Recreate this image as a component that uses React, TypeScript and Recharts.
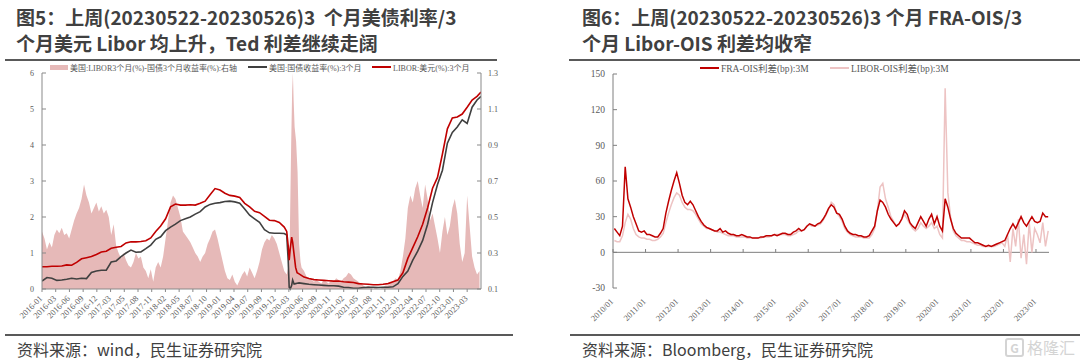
import React from 'react';
import { ComposedChart, Line, Area, XAxis, YAxis, ReferenceLine } from 'recharts';

const SERIF = "'Liberation Serif', 'Noto Sans CJK SC', serif";
const SANS = "'Noto Sans CJK SC', sans-serif";
const RED = '#C00000';
const DARK = '#404040';
const PINK = '#E6B9B8';
const AXIS = '#898989';
const TICK_TEXT = '#595959';

// ---------- figure 5 ----------
const leftTickLabels = [
  '2016-01', '2016-03', '2016-06', '2016-09', '2016-12', '2017-03', '2017-05', '2017-08',
  '2017-11', '2018-02', '2018-05', '2018-07', '2018-10', '2019-01', '2019-04', '2019-07',
  '2019-09', '2019-12', '2020-03', '2020-06', '2020-09', '2020-11', '2021-02', '2021-05',
  '2021-08', '2021-11', '2022-01', '2022-04', '2022-07', '2022-10', '2023-01', '2023-03',
];
// label spacing in months (labels are evenly spaced along the axis)
const leftTickStep = 86 / (leftTickLabels.length - 1);

// months since 2016-01
const lineMonths = [
  0, 1, 2, 3, 4, 5, 6, 7, 8, 9, 10, 11,
  12, 13, 14, 15, 16, 17, 18, 19, 20, 21, 22, 23,
  24, 25, 26, 27, 28, 29, 30, 31, 32, 33, 34, 35,
  36, 37, 38, 39, 40, 41, 42, 43, 44, 45, 46, 47,
  48, 49,
  49.5, 49.8, 50.0, 50.2, 50.5, 50.7, 51.0, 51.3, 51.6, 52,
  53, 54, 55, 56, 57, 58, 59, 60, 61, 62, 63, 64,
  65, 66, 67, 68, 69, 70, 71, 72, 73, 74, 75, 76,
  77, 78, 79, 80, 81, 82, 83, 84, 85, 86, 87, 88,
  88.8,
];
const libor3m = [
  0.62, 0.62, 0.63, 0.63, 0.64, 0.67, 0.66, 0.74, 0.84, 0.87, 0.90, 0.96,
  1.03, 1.05, 1.13, 1.16, 1.18, 1.28, 1.31, 1.31, 1.32, 1.34, 1.42, 1.60,
  1.75, 1.95, 2.28, 2.36, 2.33, 2.33, 2.34, 2.33, 2.38, 2.44, 2.62, 2.79,
  2.75, 2.66, 2.60, 2.58, 2.54, 2.38, 2.28, 2.16, 2.12, 2.02, 1.91, 1.90,
  1.85, 1.72,
  1.60, 1.20, 0.80, 1.10, 1.44, 1.30, 0.95, 0.60, 0.45, 0.42,
  0.33, 0.29, 0.26, 0.25, 0.24, 0.23, 0.22, 0.22, 0.20, 0.19, 0.18, 0.15,
  0.14, 0.13, 0.12, 0.12, 0.13, 0.15, 0.20, 0.25, 0.45, 0.85, 1.15, 1.45,
  1.80, 2.25, 2.80, 3.10, 3.75, 4.45, 4.75, 4.78, 4.86, 5.05, 5.25, 5.35,
  5.47,
];
const tsy3m = [
  0.22, 0.32, 0.30, 0.24, 0.25, 0.27, 0.30, 0.28, 0.30, 0.29, 0.46, 0.50,
  0.52, 0.52, 0.75, 0.78, 0.90, 1.00, 1.08, 1.02, 1.03, 1.12, 1.22, 1.38,
  1.45, 1.62, 1.72, 1.80, 1.90, 1.95, 2.00, 2.08, 2.15, 2.28, 2.35, 2.38,
  2.40, 2.43, 2.44, 2.42, 2.38, 2.22, 2.05, 1.95, 1.85, 1.65, 1.56, 1.55,
  1.55, 1.54,
  1.50, 0.80, 0.05, 0.00, 0.10, 0.25, 0.14, 0.15, 0.16, 0.17,
  0.15, 0.13, 0.12, 0.11, 0.10, 0.09, 0.09, 0.08, 0.05, 0.04, 0.02, 0.02,
  0.04, 0.05, 0.05, 0.04, 0.05, 0.05, 0.06, 0.15, 0.35, 0.50, 0.80, 1.05,
  1.35, 1.80, 2.40, 2.90, 3.30, 4.05, 4.35, 4.50, 4.70, 4.60, 5.05, 5.25,
  5.35,
];

// LIBOR - T-bill spread (right axis), half-month steps from 2016-01
const spreadBefore = [
  0.42, 0.38, 0.32, 0.36, 0.33, 0.40, 0.43, 0.41, 0.44, 0.40, 0.41, 0.38,
  0.43, 0.48, 0.52, 0.55, 0.60, 0.68, 0.62, 0.58, 0.52, 0.55, 0.58, 0.53,
  0.56, 0.52, 0.54, 0.50, 0.40, 0.46, 0.34, 0.30, 0.27, 0.30, 0.26, 0.23,
  0.22, 0.25, 0.30, 0.27, 0.28, 0.22, 0.20, 0.16, 0.21, 0.14, 0.22, 0.25,
  0.22, 0.28, 0.38, 0.48, 0.58, 0.62, 0.60, 0.55, 0.50, 0.42, 0.40, 0.38,
  0.36, 0.33, 0.30, 0.28, 0.25, 0.28, 0.30, 0.35, 0.38, 0.42, 0.43, 0.38,
  0.32, 0.26, 0.20, 0.16, 0.15, 0.18, 0.14, 0.12, 0.15, 0.18, 0.20, 0.17,
  0.22, 0.19, 0.16, 0.20, 0.25, 0.32, 0.36, 0.38, 0.37, 0.40, 0.38, 0.35,
  0.30, 0.25, 0.20, 0.18,
];
const covidMonths = [49.8, 50.1, 50.4, 50.6, 50.75, 50.9, 51.1, 51.4, 51.7, 52.0, 52.3];
const covidSpread = [0.22, 0.35, 0.90, 1.20, 1.30, 1.15, 1.00, 0.92, 0.75, 0.35, 0.25];
// half-month steps from month 52.5
const spreadAfter = [
  0.22, 0.20, 0.17, 0.16, 0.15, 0.14, 0.15, 0.14, 0.13, 0.15, 0.14, 0.13,
  0.15, 0.14, 0.16, 0.15, 0.14, 0.16, 0.17, 0.19, 0.18, 0.16, 0.15, 0.14,
  0.13, 0.12, 0.11, 0.12, 0.11, 0.10, 0.11, 0.10, 0.10, 0.11, 0.12, 0.12,
  0.13, 0.14, 0.16, 0.15, 0.20, 0.28, 0.38, 0.55, 0.62, 0.58, 0.66, 0.70,
  0.62, 0.55, 0.68, 0.60, 0.48, 0.52, 0.45, 0.38, 0.30, 0.42, 0.50, 0.40,
  0.45, 0.55, 0.60, 0.52, 0.35, 0.25, 0.30, 0.62, 0.45, 0.28, 0.22, 0.18,
  0.20,
];

const lineData = lineMonths.map((m, i) => ({ m, tsy: tsy3m[i], libor: libor3m[i] }));
const spreadData = [
  ...spreadBefore.map((v, i) => ({ m: i * 0.5, spread: v })),
  ...covidMonths.map((m, i) => ({ m, spread: covidSpread[i] })),
  ...spreadAfter.map((v, i) => ({ m: 52.5 + i * 0.5, spread: v })),
];

// ---------- figure 6 ----------
const rightTickYears = [2010, 2011, 2012, 2013, 2014, 2015, 2016, 2017, 2018, 2019, 2020, 2021, 2022, 2023];

// monthly, 2010-01 .. 2023-05
const fraOis = [
  20, 17, 14, 22, 72, 45, 38, 30, 24, 18, 17, 18,
  15, 15, 14, 13, 13, 16, 20, 33, 43, 52, 60, 67,
  58, 48, 42, 40, 43, 40, 35, 30, 26, 23, 21, 20,
  19, 18, 18, 20, 17, 18, 16, 15, 15, 14, 14, 15,
  14, 13, 13, 12, 12, 12, 13, 13, 14, 14, 14, 15,
  14, 15, 16, 16, 15, 15, 17, 18, 20, 18, 19, 22,
  24, 23, 22, 24, 25, 28, 32, 37, 40, 38, 33, 32,
  28, 22, 18, 16, 15, 15, 14, 14, 13, 13, 14, 18,
  22, 35, 44, 42, 38, 32, 28, 25, 22, 24, 28, 35,
  32, 25, 22, 20, 25, 30, 26, 22, 28, 32, 24, 30,
  22, 18, 45, 38, 28, 20, 16, 14, 12, 12, 12, 12,
  10, 8, 8, 7, 6, 5, 6, 5, 6, 7, 8, 9,
  10, 15, 20, 24, 20, 25, 30, 25, 22, 26, 30, 26,
  25, 26, 33, 30, 30,
];
const liborOis = [
  10, 9, 9, 14, 25, 32, 28, 20, 15, 13, 12, 12,
  11, 11, 10, 10, 11, 13, 16, 25, 33, 40, 46, 50,
  48, 42, 38, 36, 36, 35, 32, 28, 24, 22, 20, 20,
  19, 18, 17, 17, 16, 15, 14, 14, 14, 13, 13, 13,
  13, 12, 12, 12, 12, 12, 12, 13, 13, 13, 14, 15,
  15, 15, 15, 15, 14, 14, 15, 16, 18, 18, 19, 22,
  23, 22, 22, 23, 24, 27, 31, 36, 42, 40, 33, 30,
  26, 20, 17, 15, 14, 13, 13, 13, 12, 12, 12, 15,
  20, 35, 55, 58, 45, 38, 30, 26, 22, 24, 28, 32,
  28, 24, 20, 18, 20, 25, 22, 20, 22, 25, 20, 22,
  15, 12, 138, 50, 30, 18, 14, 12, 10, 10, 9, 9,
  8, 7, 6, 6, 5, 5, 5, 5, 5, 6, 7, 8,
  5, 15, -8, 20, 5, 28, -5, 15, -10, 25, 0, 20,
  15, 8, 25, 5, 18,
];
const oisData = fraOis.map((v, i) => ({ t: 2010 + (i + 0.5) / 12, fra: v, libor: liborOis[i] }));

const LeftXTick = (props: any) => {
  const { x, y, payload } = props;
  const label = leftTickLabels[Math.round(payload.value / leftTickStep)];
  const ax = x + 1;
  const ay = y + 5;
  return (
    <text x={ax} y={ay} transform={`rotate(-45 ${ax} ${ay})`} textAnchor="end"
      fontSize={8.5} fill={TICK_TEXT} fontFamily={SERIF}>{label}</text>
  );
};

const RightXTick = (props: any) => {
  const { x, y, payload } = props;
  const ax = x + 1;
  const ay = y + 14;
  return (
    <text x={ax} y={ay} transform={`rotate(-45 ${ax} ${ay})`} textAnchor="end"
      fontSize={8.5} fill={TICK_TEXT} fontFamily={SERIF}>{`${payload.value}/01`}</text>
  );
};

const tickStyle = { fontSize: 8, fill: TICK_TEXT, fontFamily: SERIF };

function Title({ left, lines }: { left: number; lines: string[] }) {
  return (
    <div style={{ position: 'absolute', left, top: 4, fontFamily: SANS, fontWeight: 700, fontSize: 19, lineHeight: '25.5px', color: DARK, whiteSpace: 'pre' }}>
      {lines.map(l => <div key={l}>{l}</div>)}
    </div>
  );
}

function Rule({ left, width, top }: { left: number; width: number; top: number }) {
  return <div style={{ position: 'absolute', left, top, width, height: 2, background: '#595959' }} />;
}

function Source({ left, text }: { left: number; text: string }) {
  return (
    <div style={{ position: 'absolute', left, top: 339, fontFamily: SANS, fontSize: 16, lineHeight: '20px', color: DARK, whiteSpace: 'pre' }}>{text}</div>
  );
}

function LegendItem({ left, top, kind, color, text, size }: { left: number; top: number; kind: 'rect' | 'line'; color: string; text: string; size: number }) {
  const swatchW = kind === 'rect' ? 18 : 19;
  return (
    <div style={{ position: 'absolute', left, top, display: 'flex', alignItems: 'center', height: 12, fontFamily: SERIF, fontSize: size, color: TICK_TEXT, whiteSpace: 'pre' }}>
      <span style={{ display: 'inline-block', width: swatchW, height: kind === 'rect' ? 5 : 2, background: color, marginRight: 2 }} />
      <span>{text}</span>
    </div>
  );
}

export default function App() {
  return (
    <div style={{ position: 'fixed', left: 0, top: 0, width: 1080, height: 363, background: '#fff', overflow: 'hidden' }}>
      <Title left={16} lines={['图5：上周(20230522-20230526)3  个月美债利率/3', '个月美元 Libor 均上升，Ted 利差继续走阔']} />
      <Title left={582} lines={['图6：上周(20230522-20230526)3 个月 FRA-OIS/3', '个月 Libor-OIS 利差均收窄']} />
      <Rule left={5} width={492} top={59} />
      <Rule left={569} width={511} top={59} />

      <LegendItem left={50} top={61} kind="rect" color={PINK} size={8} text="美国:LIBOR3个月(%)-国债3个月收益率(%):右轴" />
      <LegendItem left={248} top={61} kind="line" color={DARK} size={8} text="美国:国债收益率(%):3个月" />
      <LegendItem left={372} top={61} kind="line" color={RED} size={8} text="LIBOR:美元(%):3个月" />

      <LegendItem left={700} top={62} kind="line" color={RED} size={9.5} text="FRA-OIS利差(bp):3M" />
      <LegendItem left={830} top={62} kind="line" color="#EDC3C3" size={9.5} text="LIBOR-OIS利差(bp):3M" />

      <div style={{ position: 'absolute', left: 0, top: 0 }}>
        <ComposedChart width={540} height={363} margin={{ top: 73, right: 0, bottom: 34, left: 0 }}>
          <XAxis type="number" dataKey="m" domain={[0, 88.8]} ticks={leftTickLabels.map((_, k) => k * leftTickStep)}
            tick={<LeftXTick />} tickSize={3} tickMargin={2} height={40} interval={0}
            stroke={AXIS} allowDataOverflow />
          <YAxis yAxisId="left" orientation="left" domain={[0, 6]} ticks={[0, 1, 2, 3, 4, 5, 6]} width={42}
            tickSize={-4} tickMargin={12} tick={tickStyle} stroke={AXIS} />
          <YAxis yAxisId="right" orientation="right" domain={[0.1, 1.3]} ticks={[0.1, 0.3, 0.5, 0.7, 0.9, 1.1, 1.3]} width={59}
            tickSize={-4} tickMargin={11} tick={tickStyle} stroke={AXIS} tickFormatter={(v: number) => v.toFixed(1)} allowDataOverflow />
          <Area yAxisId="right" data={spreadData} dataKey="spread" type="linear" fill={PINK} fillOpacity={1} stroke="none" isAnimationActive={false} />
          <Line yAxisId="left" data={lineData} dataKey="tsy" type="linear" stroke={DARK} strokeWidth={1.6} dot={false} isAnimationActive={false} />
          <Line yAxisId="left" data={lineData} dataKey="libor" type="linear" stroke={RED} strokeWidth={1.6} dot={false} isAnimationActive={false} />
        </ComposedChart>
      </div>

      <div style={{ position: 'absolute', left: 540, top: 0 }}>
        <ComposedChart width={540} height={363} data={oisData} margin={{ top: 74, right: 31, bottom: 35, left: 0 }}>
          <XAxis type="number" dataKey="t" domain={[2010, 2023.4]} ticks={rightTickYears} interval={0}
            tick={<RightXTick />} tickSize={0} tickMargin={0} axisLine={false} tickLine={false} height={40} />
          <YAxis domain={[-30, 150]} ticks={[-30, 0, 30, 60, 90, 120, 150]} width={73}
            tickSize={-4} tickMargin={12} tick={{ ...tickStyle, fontSize: 9.5 }} stroke="#7f7f7f" />
          <ReferenceLine y={0} stroke="#7f7f7f" />
          {rightTickYears.map(yr => (
            <ReferenceLine key={yr} segment={[{ x: yr, y: 0 }, { x: yr, y: 2.8 }]} stroke="#7f7f7f" />
          ))}
          <Line dataKey="libor" type="linear" stroke="#EDC3C3" strokeWidth={1.5} dot={false} isAnimationActive={false} />
          <Line dataKey="fra" type="linear" stroke={RED} strokeWidth={1.5} dot={false} isAnimationActive={false} />
        </ComposedChart>
      </div>

      <Rule left={5} width={508} top={334} />
      <Rule left={570} width={510} top={334} />
      <Source left={17} text="资料来源：wind，民生证券研究院" />
      <Source left={582} text="资料来源：Bloomberg，民生证券研究院" />

      <div style={{ position: 'absolute', left: 1005, top: 337, display: 'flex', alignItems: 'center', color: '#d4d4d4', fontFamily: SANS }}>
        <span style={{ display: 'inline-block', width: 15, height: 15, border: '2px solid #d4d4d4', borderRadius: 3, fontSize: 12, lineHeight: '15px', textAlign: 'center', fontWeight: 700 }}>G</span>
        <span style={{ fontSize: 16, marginLeft: 3, lineHeight: '20px' }}>格隆汇</span>
      </div>
    </div>
  );
}
